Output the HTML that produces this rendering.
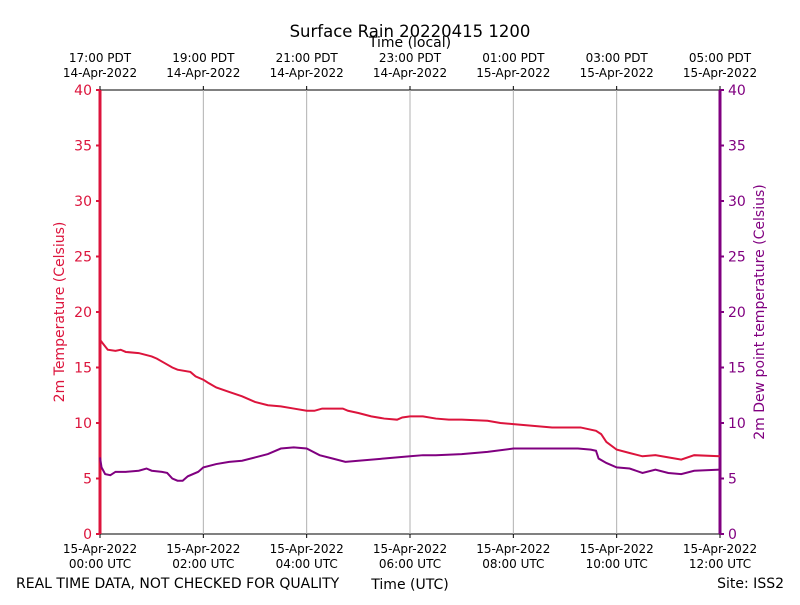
<!DOCTYPE html>
<html><head><meta charset="utf-8"><style>body{margin:0;background:#fff}svg{font-family:"DejaVu Sans","Liberation Sans",sans-serif}</style></head>
<body>
<svg id="c" width="800" height="600"></svg>
<script>
const hours=[0,0.05,0.15,0.3,0.4,0.5,0.75,1.0,1.1,1.25,1.4,1.5,1.75,1.85,2.0,2.1,2.25,2.5,2.75,2.9,3.0,3.25,3.5,3.75,4.0,4.15,4.3,4.5,4.7,4.8,5.0,5.25,5.5,5.75,5.85,6.0,6.25,6.5,6.75,7.0,7.5,7.75,8.0,8.25,8.5,8.75,9.0,9.3,9.6,9.7,9.8,10.0,10.25,10.5,10.75,11.0,11.25,11.5,12.0];
const temps=[17.5,17.2,16.6,16.5,16.6,16.4,16.3,16.0,15.8,15.4,15.0,14.8,14.6,14.2,13.9,13.6,13.2,12.8,12.4,12.1,11.9,11.6,11.5,11.3,11.1,11.1,11.3,11.3,11.3,11.1,10.9,10.6,10.4,10.3,10.5,10.6,10.6,10.4,10.3,10.3,10.2,10.0,9.9,9.8,9.7,9.6,9.6,9.6,9.3,9.0,8.3,7.6,7.3,7.0,7.1,6.9,6.7,7.1,7.0];
const dewHours=[0,0.03,0.1,0.2,0.3,0.5,0.75,0.9,1.0,1.2,1.3,1.4,1.5,1.6,1.7,1.9,2.0,2.25,2.5,2.75,3.0,3.25,3.5,3.75,4.0,4.25,4.5,4.75,5.0,5.5,6.0,6.25,6.5,7.0,7.5,8.0,8.5,9.0,9.25,9.5,9.6,9.65,9.8,10.0,10.25,10.5,10.75,11.0,11.25,11.5,12.0];
const dews=[6.9,6.0,5.4,5.3,5.6,5.6,5.7,5.9,5.7,5.6,5.5,5.0,4.8,4.8,5.2,5.6,6.0,6.3,6.5,6.6,6.9,7.2,7.7,7.8,7.7,7.1,6.8,6.5,6.6,6.8,7.0,7.1,7.1,7.2,7.4,7.7,7.7,7.7,7.7,7.6,7.5,6.8,6.4,6.0,5.9,5.5,5.8,5.5,5.4,5.7,5.8];
const yTicks=[0,5,10,15,20,25,30,35,40];
const utcLabels=["00:00 UTC","02:00 UTC","04:00 UTC","06:00 UTC","08:00 UTC","10:00 UTC","12:00 UTC"];
const localTimes=["17:00 PDT","19:00 PDT","21:00 PDT","23:00 PDT","01:00 PDT","03:00 PDT","05:00 PDT"];
const localDates=["14-Apr-2022","14-Apr-2022","14-Apr-2022","14-Apr-2022","15-Apr-2022","15-Apr-2022","15-Apr-2022"];
const L=100,R=720,T=90,B=534;
const x=h=>L+(R-L)*h/12, y=v=>B-(B-T)*v/40;
const s=document.getElementById('c');const NS='http://www.w3.org/2000/svg';
function el(t,a,txt){const e=document.createElementNS(NS,t);for(const k in a)e.setAttribute(k,a[k]);if(txt!==undefined)e.textContent=txt;s.appendChild(e);return e;}
let e;
e=el('rect',{x:L,y:T,width:R-L,height:B-T,fill:'none',stroke:'#000','stroke-width':1});


utcLabels.forEach((u,i)=>{const xx=x(i*2);
 if(i>0&&i<6){e=el('line',{x1:xx,x2:xx,y1:T,y2:B,stroke:'#b0b0b0','stroke-width':1});
 
 }
 el('line',{x1:xx,x2:xx,y1:B,y2:B+4,stroke:'#000'});
 el('line',{x1:xx,x2:xx,y1:T,y2:T-4,stroke:'#000'});
 e=el('text',{x:xx,y:553,'font-size':12,'text-anchor':'middle'},'15-Apr-2022');
 
 
 e=el('text',{x:xx,y:568,'font-size':12,'text-anchor':'middle'},u);
 
 
 e=el('text',{x:xx,y:62,'font-size':12,'text-anchor':'middle'},localTimes[i]);
 
 
 e=el('text',{x:xx,y:77,'font-size':12,'text-anchor':'middle'},localDates[i]);
 
 
});
yTicks.forEach(v=>{const yy=y(v);
 el('line',{x1:L-4,x2:L,y1:yy,y2:yy,stroke:'#dc143c','stroke-width':2});
 el('line',{x1:R,x2:R+4,y1:yy,y2:yy,stroke:'#800080','stroke-width':2});
 e=el('text',{x:L-8,y:yy+5,'font-size':14,'text-anchor':'end',fill:'#dc143c'},v);
 
 
 e=el('text',{x:R+8,y:yy+5,'font-size':14,fill:'#800080'},v);
 
 
});
e=el('line',{x1:L,x2:L,y1:T,y2:B,stroke:'#dc143c','stroke-width':3});


e=el('line',{x1:R,x2:R,y1:T,y2:B,stroke:'#800080','stroke-width':3});


e=el('polyline',{points:hours.map((h,i)=>x(h)+','+y(temps[i])).join(' '),fill:'none',stroke:'#dc143c','stroke-width':2});


e=el('polyline',{points:dewHours.map((h,i)=>x(h)+','+y(dews[i])).join(' '),fill:'none',stroke:'#800080','stroke-width':2});


e=el('text',{x:410,y:37,'font-size':16.5,'text-anchor':'middle'},'Surface Rain 20220415 1200');


e=el('text',{x:410,y:47,'font-size':14,'text-anchor':'middle'},'Time (local)');


e=el('text',{x:410,y:589,'font-size':14,'text-anchor':'middle'},'Time (UTC)');


e=el('text',{x:64,y:312,'font-size':14,'text-anchor':'middle',fill:'#dc143c',transform:'rotate(-90 64 312)'},'2m Temperature (Celsius)');


e=el('text',{x:764,y:312,'font-size':14,'text-anchor':'middle',fill:'#800080',transform:'rotate(-90 764 312)'},'2m Dew point temperature (Celsius)');


e=el('text',{x:16,y:588,'font-size':14},'REAL TIME DATA, NOT CHECKED FOR QUALITY');


e=el('text',{x:784,y:588,'font-size':14,'text-anchor':'end'},'Site: ISS2');


</script>
</body></html>
